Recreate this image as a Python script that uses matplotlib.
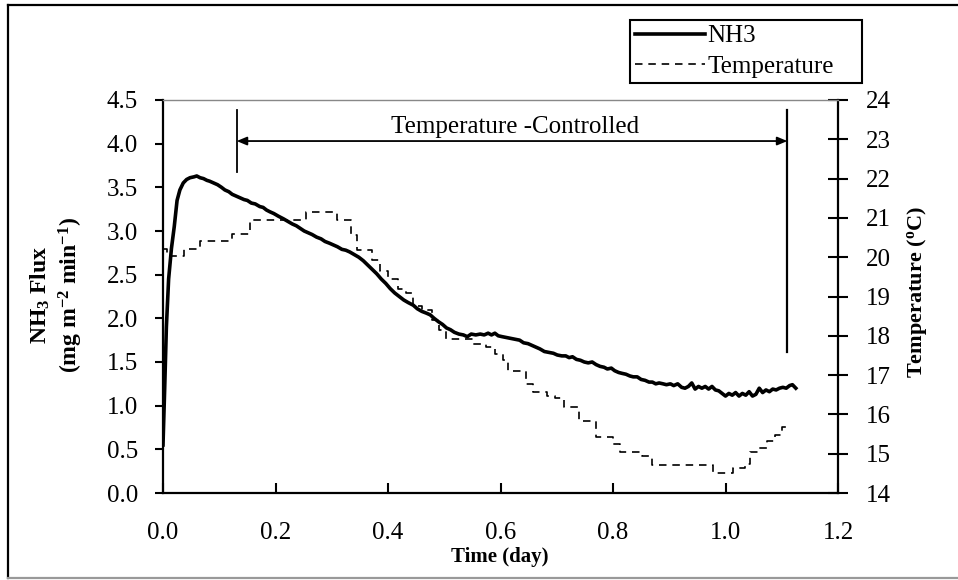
import matplotlib
matplotlib.use("Agg")
import matplotlib.pyplot as plt
from matplotlib.lines import Line2D

plt.rcParams['font.family'] = ['Liberation Serif', 'DejaVu Serif']
plt.rcParams['mathtext.fontset'] = 'custom'
plt.rcParams['mathtext.rm'] = 'Liberation Serif:bold'
plt.rcParams['mathtext.bf'] = 'Liberation Serif:bold'
plt.rcParams['mathtext.it'] = 'Liberation Serif:bold'
plt.rcParams['mathtext.default'] = 'bf'

# ---------------- data ----------------
nh3_t = [0.000, 0.003, 0.006, 0.010, 0.015, 0.020, 0.025, 0.030, 0.036, 0.042,
         0.048, 0.055, 0.060, 0.066, 0.072, 0.078, 0.083, 0.090, 0.097, 0.104,
         0.110, 0.117, 0.123, 0.130, 0.137, 0.144, 0.150, 0.157, 0.164, 0.172,
         0.178, 0.184, 0.190, 0.197, 0.205, 0.214, 0.222, 0.230, 0.237, 0.244,
         0.251, 0.258, 0.265, 0.273, 0.281, 0.288, 0.296, 0.303, 0.310, 0.318,
         0.325, 0.332, 0.340, 0.348, 0.356, 0.364, 0.372, 0.380, 0.388, 0.396,
         0.404, 0.412, 0.420, 0.428, 0.436, 0.445, 0.452, 0.460, 0.468, 0.475,
         0.482, 0.490, 0.497, 0.504, 0.511, 0.518, 0.526, 0.534, 0.541, 0.548,
         0.556, 0.564, 0.571, 0.578, 0.584, 0.590, 0.596, 0.603, 0.611, 0.619,
         0.626, 0.634, 0.641, 0.649, 0.656, 0.663, 0.670, 0.678, 0.686, 0.694,
         0.701, 0.709, 0.716, 0.722, 0.728, 0.735, 0.742, 0.749, 0.756, 0.763,
         0.770, 0.777, 0.784, 0.790, 0.797, 0.803, 0.810, 0.816, 0.823, 0.830,
         0.836, 0.843, 0.850, 0.857, 0.864, 0.870, 0.876, 0.882, 0.889, 0.895,
         0.902, 0.908, 0.915, 0.922, 0.928, 0.934, 0.940, 0.946, 0.952, 0.958,
         0.964, 0.970, 0.976, 0.982, 0.988, 0.994, 1.000, 1.006, 1.012, 1.018,
         1.024, 1.030, 1.036, 1.042, 1.048, 1.054, 1.060, 1.066, 1.072, 1.078,
         1.084, 1.090, 1.096, 1.102, 1.108, 1.114, 1.119, 1.125]
nh3_flux = [0.55, 1.20, 1.90, 2.45, 2.80, 3.05, 3.35, 3.47, 3.55, 3.59,
            3.61, 3.62, 3.63, 3.61, 3.60, 3.58, 3.57, 3.55, 3.53, 3.50,
            3.47, 3.45, 3.42, 3.40, 3.38, 3.36, 3.35, 3.32, 3.31, 3.28,
            3.27, 3.24, 3.22, 3.20, 3.17, 3.14, 3.11, 3.08, 3.06, 3.03,
            3.00, 2.98, 2.96, 2.93, 2.91, 2.88, 2.86, 2.84, 2.82, 2.79,
            2.78, 2.76, 2.73, 2.70, 2.66, 2.61, 2.56, 2.51, 2.45, 2.40,
            2.34, 2.29, 2.25, 2.21, 2.18, 2.15, 2.11, 2.08, 2.06, 2.04,
            2.00, 1.96, 1.93, 1.89, 1.87, 1.84, 1.82, 1.81, 1.79, 1.82,
            1.81, 1.82, 1.81, 1.83, 1.81, 1.83, 1.80, 1.79, 1.78, 1.77,
            1.76, 1.75, 1.72, 1.71, 1.69, 1.67, 1.65, 1.62, 1.61, 1.60,
            1.58, 1.57, 1.57, 1.55, 1.56, 1.53, 1.52, 1.50, 1.49, 1.50,
            1.47, 1.45, 1.44, 1.42, 1.43, 1.40, 1.38, 1.37, 1.36, 1.34,
            1.33, 1.33, 1.30, 1.29, 1.27, 1.27, 1.25, 1.26, 1.25, 1.24,
            1.25, 1.23, 1.25, 1.21, 1.20, 1.22, 1.26, 1.19, 1.22, 1.20,
            1.22, 1.19, 1.22, 1.18, 1.17, 1.14, 1.11, 1.14, 1.12, 1.15,
            1.11, 1.14, 1.12, 1.16, 1.11, 1.13, 1.20, 1.15, 1.18, 1.16,
            1.19, 1.18, 1.20, 1.21, 1.20, 1.23, 1.24, 1.20]

temp_t = [0.000, 0.008, 0.037, 0.066, 0.122, 0.155, 0.255, 0.309, 0.335, 0.345,
          0.372, 0.385, 0.400, 0.418, 0.432, 0.445, 0.460, 0.478, 0.490, 0.504,
          0.552, 0.575, 0.590, 0.604, 0.614, 0.645, 0.657, 0.683, 0.697, 0.713,
          0.740, 0.770, 0.800, 0.812, 0.852, 0.870, 0.978, 1.014, 1.035, 1.043,
          1.058, 1.073, 1.088, 1.100, 1.113]
temp_c = [20.20, 20.03, 20.20, 20.42, 20.60, 20.95, 21.16, 20.95, 20.56, 20.18,
          19.93, 19.65, 19.45, 19.20, 19.10, 18.75, 18.66, 18.40, 18.15, 17.91,
          17.80, 17.72, 17.54, 17.38, 17.10, 16.77, 16.58, 16.48, 16.41, 16.20,
          15.83, 15.43, 15.25, 15.05, 14.93, 14.71, 14.50, 14.63, 14.75, 15.05,
          15.15, 15.32, 15.48, 15.67, 15.67]

ctrl_start = 0.131
ctrl_end = 1.110
ctrl_label = "Temperature -Controlled"

x_ticks = [0.0, 0.2, 0.4, 0.6, 0.8, 1.0, 1.2]
y_ticks = [0.0, 0.5, 1.0, 1.5, 2.0, 2.5, 3.0, 3.5, 4.0, 4.5]
t_ticks = [14, 15, 16, 17, 18, 19, 20, 21, 22, 23, 24]

# ---------------- figure ----------------
W, H = 958, 580
fig = plt.figure(figsize=(W / 100, H / 100), dpi=100)

# outer chart frame
fig.add_artist(Line2D([8 / W, 8 / W], [1 - 5 / H, 1 - 578 / H], color='black', lw=1.6))
fig.add_artist(Line2D([8 / W, 1.0], [1 - 5 / H, 1 - 5 / H], color='black', lw=1.6))
fig.add_artist(Line2D([8 / W, 1.0], [1 - 578 / H, 1 - 578 / H], color='#999999', lw=1.6))

L, R, T, B = 163, 838, 100, 493
ax = fig.add_axes([L / W, 1 - B / H, (R - L) / W, (B - T) / H])
ax2 = ax.twinx()
ax.set_zorder(ax2.get_zorder() + 1)
ax.patch.set_visible(False)

ln_t, = ax2.plot(temp_t, temp_c, color='black', lw=1.2, ls=(0, (4.5, 3.5)),
                 drawstyle='steps-post', label='Temperature')
ln_n, = ax.plot(nh3_t, nh3_flux, color='black', lw=2.6, label='NH3',
                solid_joinstyle='round')

ax.set_xlim(0, 1.2)
ax.set_ylim(0, 4.5)
ax2.set_ylim(14, 24)

ax.set_xticks(x_ticks)
ax.set_xticklabels([f"{v:.1f}" for v in x_ticks])
ax.set_yticks(y_ticks)
ax.set_yticklabels([f"{v:.1f}" for v in y_ticks])
ax2.set_yticks(t_ticks)
ax2.set_yticklabels([str(v) for v in t_ticks])

fs = 18
ax.tick_params(axis='x', direction='in', length=7, width=1.5, labelsize=fs, pad=21)
ax.tick_params(axis='y', direction='out', length=6, width=1.5, labelsize=fs, pad=12)
ax2.tick_params(axis='y', direction='inout', length=14, width=1.5, labelsize=fs, pad=13)

for s in ['left', 'bottom']:
    ax.spines[s].set_linewidth(1.6)
ax.spines['top'].set_color('#888888')
ax.spines['top'].set_linewidth(1.0)
ax.spines['right'].set_visible(False)
for s in ['left', 'top', 'bottom']:
    ax2.spines[s].set_visible(False)
ax2.spines['right'].set_linewidth(1.6)

# axis titles
fig.text(500 / W, 1 - 557 / H, "Time (day)", fontsize=15, fontweight='bold',
         ha='center', va='center')
fig.text(57 / W, 1 - 295 / H, "NH$_3$ Flux\n(mg m$^{-2}$ min$^{-1}$)", fontsize=17,
         fontweight='bold', rotation=90, ha='center', va='center',
         multialignment='center', linespacing=1.2)
fig.text(917 / W, 1 - 292 / H, "Temperature ($^{o}$C)", fontsize=16,
         fontweight='bold', rotation=90, ha='center', va='center')

# temperature-controlled annotation
ax.plot([ctrl_start, ctrl_start], [3.68, 4.385], color='black', lw=1.3)
ax.plot([ctrl_end, ctrl_end], [1.61, 4.385], color='black', lw=1.6)
ax.annotate('', xy=(ctrl_start, 4.03), xytext=(ctrl_end, 4.03),
            arrowprops=dict(arrowstyle='<|-|>,head_length=0.6,head_width=0.25',
                            color='black', lw=1.3, shrinkA=0, shrinkB=0))
ax.text(0.626, 4.19, ctrl_label, fontsize=fs, ha='center', va='center')

leg = fig.legend([ln_n, ln_t], ['NH3', 'Temperature'], loc='upper left',
                 bbox_to_anchor=(630 / W, 1 - 83 / H, 232 / W, 63 / H),
                 mode='expand', fontsize=fs,
                 fancybox=False, framealpha=1, edgecolor='black',
                 handlelength=2.8, handletextpad=0.1, labelspacing=0.3,
                 borderpad=0.2, borderaxespad=0)
leg.get_frame().set_linewidth(1.5)

fig.savefig("out.png", dpi=100)
